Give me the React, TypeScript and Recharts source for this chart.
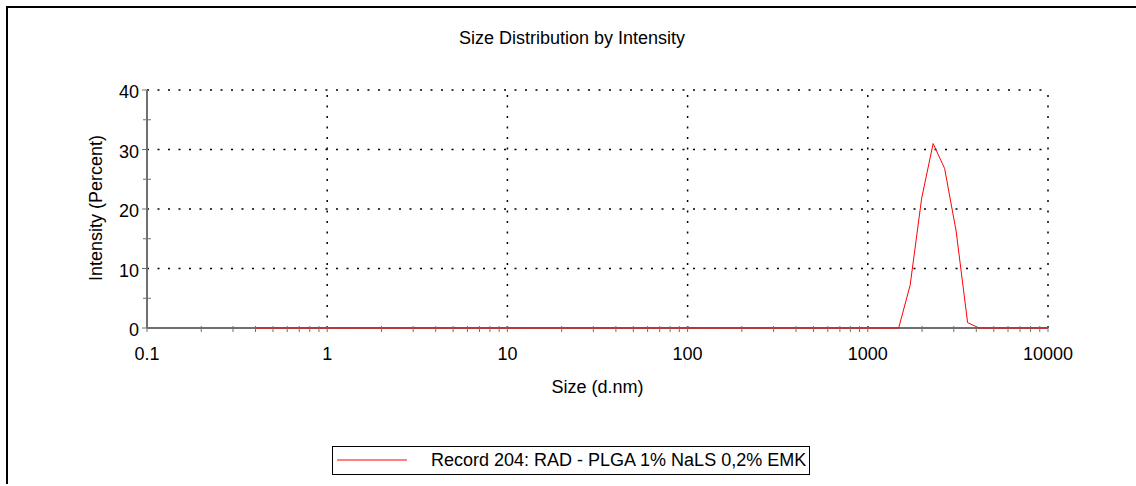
import { LineChart, Line, XAxis, YAxis, ReferenceLine, Legend, Label } from "recharts";

// size bins (d.nm) and intensity (%)
const SIZE_NM = [
  0.4, 0.4632, 0.5365, 0.6213, 0.7195, 0.8332, 0.9649, 1.117, 1.294, 1.499,
  1.736, 2.01, 2.328, 2.696, 3.122, 3.615, 4.187, 4.849, 5.615, 6.503,
  7.531, 8.721, 10.1, 11.7, 13.54, 15.69, 18.17, 21.04, 24.36, 28.21,
  32.67, 37.84, 43.82, 50.75, 58.77, 68.06, 78.82, 91.28, 105.7, 122.4,
  141.8, 164.2, 190.1, 220.2, 255, 295.3, 342, 396.1, 458.7, 531.2,
  615.1, 712.4, 825, 955.4, 1106, 1281, 1484, 1718, 1990, 2305,
  2669, 3091, 3580, 4145, 4801, 5560, 6439, 7456, 8635, 10000,
];
const INTENSITY_PCT = [
  0, 0, 0, 0, 0, 0, 0, 0, 0, 0,
  0, 0, 0, 0, 0, 0, 0, 0, 0, 0,
  0, 0, 0, 0, 0, 0, 0, 0, 0, 0,
  0, 0, 0, 0, 0, 0, 0, 0, 0, 0,
  0, 0, 0, 0, 0, 0, 0, 0, 0, 0,
  0, 0, 0, 0, 0, 0, 0, 7.2, 21.8, 31.0,
  26.8, 16.3, 0.9, 0, 0, 0, 0, 0, 0, 0,
];

const X_MAJOR = [0.1, 1, 10, 100, 1000, 10000];
const X_MINOR_STEPS = [2, 3, 4, 5, 6, 7, 8, 9];
const X_GRID = [1, 10, 100, 1000, 10000];
const Y_TICKS = [0, 5, 10, 15, 20, 25, 30, 35, 40];
const Y_GRID = [10, 20, 30, 40];
const SERIES_NAME = "Record 204: RAD - PLGA 1% NaLS 0,2% EMK";

const data = SIZE_NM.map((size, i) => ({ size, intensity: INTENSITY_PCT[i] }));

const xTicks = [
  ...X_MAJOR,
  ...X_MAJOR.slice(0, -1).flatMap((d) => X_MINOR_STEPS.map((m) => m * d)),
].sort((a, b) => a - b);

const AXIS = "#707070";
const FONT = "'Liberation Sans', Arial, sans-serif";
const LEGEND_H = 29;

function XTick({ x, y, payload }: any) {
  const major = X_MAJOR.includes(payload.value);
  return (
    <g>
      <line x1={x} x2={x} y1={y - 2} y2={y + 4} stroke={AXIS} strokeWidth={1} />
      {major && (
        <text x={x} y={y + 32} textAnchor="middle" fontSize={18} fill="#000" fontFamily={FONT}>
          {String(payload.value)}
        </text>
      )}
    </g>
  );
}

function YTick({ x, y, payload }: any) {
  const major = payload.value % 10 === 0;
  return (
    <g>
      {major ? (
        <line x1={x - 5} x2={x} y1={y} y2={y} stroke={AXIS} strokeWidth={1} />
      ) : (
        <line x1={x - 4} x2={x + 4} y1={y} y2={y} stroke={AXIS} strokeWidth={1} />
      )}
      {major && (
        <text x={x - 8} y={y + 8} textAnchor="end" fontSize={18} fill="#000" fontFamily={FONT}>
          {payload.value}
        </text>
      )}
    </g>
  );
}

function LegendBox() {
  return (
    <div
      style={{
        width: 476,
        height: 27,
        border: "1px solid #000",
        display: "flex",
        alignItems: "center",
        fontFamily: FONT,
        fontSize: 18,
        color: "#000",
        background: "#fff",
      }}
    >
      <svg width={98} height={27} style={{ flex: "none" }}>
        <line x1={4} x2={74} y1={13} y2={13} stroke="#ff0000" strokeWidth={1} />
      </svg>
      <span style={{ whiteSpace: "nowrap" }}>{SERIES_NAME}</span>
    </div>
  );
}

export default function App() {
  return (
    <div
      style={{
        position: "fixed",
        left: 0,
        top: 0,
        width: 1136,
        height: 486,
        background: "#fff",
        overflow: "hidden",
        fontFamily: FONT,
      }}
    >
      {/* outer frame: left and top edges only */}
      <svg width={1136} height={486} style={{ position: "absolute", left: 0, top: 0 }}>
        <path d="M7 484 V7 H1136" fill="none" stroke="#000" strokeWidth={2} />
      </svg>
      <div
        style={{
          position: "absolute",
          left: 0,
          top: 28,
          width: 1144,
          textAlign: "center",
          fontSize: 18,
          lineHeight: "20px",
          color: "#000",
        }}
      >
        Size Distribution by Intensity
      </div>
      <LineChart
        width={1136}
        height={486}
        data={data}
        margin={{ top: 90, right: 88, bottom: 128 - LEGEND_H, left: 87 }}
        style={{ position: "absolute", left: 0, top: 0 }}
      >
        {Y_GRID.map((v) => (
          <ReferenceLine key={"y" + v} y={v} stroke="#000" strokeWidth={1.5} strokeDasharray="2 8.5" />
        ))}
        {X_GRID.map((v) => (
          <ReferenceLine key={"x" + v} x={v} stroke="#000" strokeWidth={1.5} strokeDasharray="2 8.5" />
        ))}
        <ReferenceLine y={0} stroke={AXIS} strokeWidth={2} />
        <XAxis
          dataKey="size"
          type="number"
          scale="log"
          domain={[0.1, 10000]}
          allowDataOverflow
          ticks={xTicks}
          interval={0}
          height={30}
          tickSize={0}
          tickMargin={0}
          tickLine={false}
          axisLine={false}
          tick={<XTick />}
        >
          <Label
            content={({ viewBox }: any) => (
              <text
                x={viewBox.x + viewBox.width / 2}
                y={viewBox.y + 65}
                textAnchor="middle"
                fontSize={18}
                fill="#000"
                fontFamily={FONT}
              >
                Size (d.nm)
              </text>
            )}
          />
        </XAxis>
        <YAxis
          type="number"
          domain={[0, 40]}
          ticks={Y_TICKS}
          interval={0}
          width={60}
          tickSize={0}
          tickMargin={0}
          tickLine={false}
          axisLine={{ stroke: AXIS, strokeWidth: 2 }}
          tick={<YTick />}
        >
          <Label
            content={({ viewBox }: any) => {
              const cx = viewBox.x + 9;
              const cy = viewBox.y + viewBox.height / 2 - 1;
              return (
                <text
                  x={cx}
                  y={cy}
                  transform={`rotate(-90, ${cx}, ${cy})`}
                  textAnchor="middle"
                  dominantBaseline="central"
                  fontSize={18}
                  fill="#000"
                  fontFamily={FONT}
                >
                  Intensity (Percent)
                </text>
              );
            }}
          />
        </YAxis>
        <Legend
          content={<LegendBox />}
          wrapperStyle={{ position: "absolute", left: 332, top: 446, width: 478, height: LEGEND_H, bottom: "auto" }}
        />
        <Line
          dataKey="intensity"
          name={SERIES_NAME}
          type="linear"
          stroke="#ff0000"
          strokeWidth={1}
          dot={false}
          activeDot={false}
          isAnimationActive={false}
        />
      </LineChart>
    </div>
  );
}
